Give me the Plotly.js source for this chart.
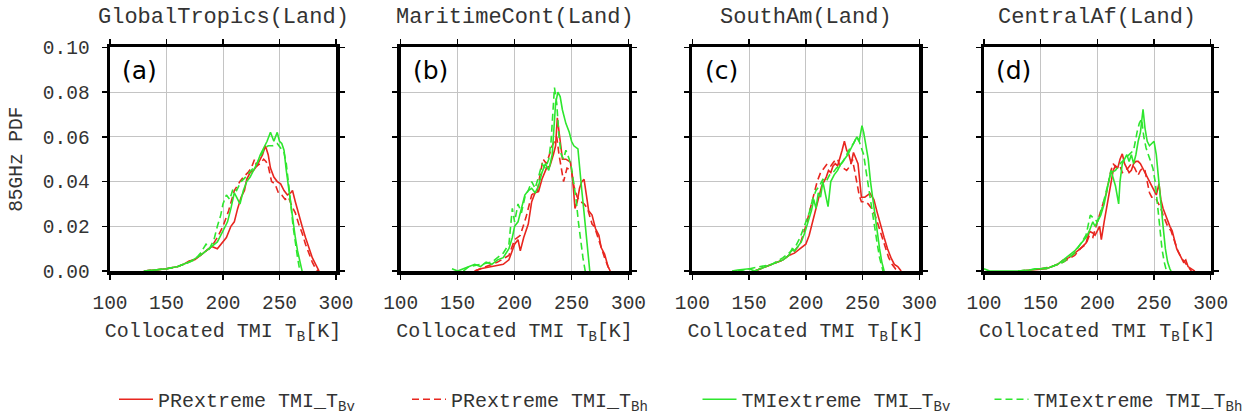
<!DOCTYPE html>
<html>
<head>
<meta charset="utf-8">
<script src="https://cdn.plot.ly/plotly-3.0.1.min.js"></script>
<style>html,body{margin:0;padding:0;background:#fff;}#chart{width:1257px;height:419px;}</style>
</head>
<body>
<div id="chart"></div>
<script>
// ---------- data (T in K, PDF) ----------
var panelTitles = ["GlobalTropics(Land)", "MaritimeCont(Land)", "SouthAm(Land)", "CentralAf(Land)"];
var panelLabels = ["(a)", "(b)", "(c)", "(d)"];
var seriesNames = ["PRextreme TMI_T<sub>Bv</sub>", "PRextreme TMI_T<sub>Bh</sub>", "TMIextreme TMI_T<sub>Bv</sub>", "TMIextreme TMI_T<sub>Bh</sub>"];
var xTickVals = [100, 150, 200, 250, 300];
var yTickVals = [0, 0.02, 0.04, 0.06, 0.08, 0.10];

// (a) GlobalTropics
var aPRvT = [130,140,150,160,165,170,175,180,185,190,195,200,203,207,210,213,216,219,221,224,227,230,233,235,237.5,240,242,245,248,251,254,257,260,261.5,264,267,270,273,276,279,282,285];
var aPRvP = [0,0.0005,0.001,0.002,0.003,0.0045,0.005,0.007,0.009,0.011,0.010,0.013,0.015,0.020,0.022,0.028,0.033,0.036,0.041,0.044,0.045,0.047,0.050,0.052,0.056,0.052,0.046,0.042,0.040,0.039,0.036,0.034,0.035,0.036,0.031,0.025,0.020,0.015,0.010,0.006,0.003,0];
var aPRhT = [130,150,160,170,180,185,190,195,200,205,210,215,218,222,225,228,230,233,236,238,240,243,246,249,252,255,258,261,264,267,270,273,276,279,282,284];
var aPRhP = [0,0.001,0.002,0.004,0.007,0.009,0.011,0.015,0.020,0.027,0.036,0.040,0.042,0.044,0.046,0.050,0.047,0.048,0.050,0.049,0.047,0.040,0.039,0.035,0.034,0.032,0.033,0.029,0.026,0.021,0.017,0.012,0.008,0.004,0.001,0];
var aTMvT = [130,140,150,160,170,180,185,190,195,200,204,207,210,212,215,218,221,224,227,230,233,236,239,242,245,248,250,252,254,256,258,260,262,264,266,268,270];
var aTMvP = [0,0.0005,0.001,0.002,0.004,0.007,0.009,0.011,0.013,0.018,0.022,0.028,0.035,0.033,0.030,0.036,0.040,0.042,0.045,0.048,0.052,0.055,0.058,0.062,0.058,0.062,0.058,0.057,0.054,0.045,0.037,0.030,0.022,0.015,0.009,0.004,0];
var aTMhT = [130,150,160,170,175,180,185,188,192,195,198,200,203,206,209,212,216,220,225,230,234,237,240,244,248,251,254,256,258,260,262,264,266,268];
var aTMhP = [0,0.001,0.002,0.004,0.005,0.008,0.012,0.010,0.014,0.020,0.025,0.030,0.034,0.032,0.037,0.036,0.040,0.042,0.045,0.048,0.052,0.055,0.056,0.056,0.057,0.055,0.053,0.048,0.040,0.030,0.020,0.012,0.006,0];

// (b) MaritimeCont
var bPRvT = [165,170,180,190,195,200,203,205,208,212,215,218,221,224,228,231,234,236,237.5,240,242,245,249,251,253,255,257,259,261,263,265,268,271,274,276,279,282,284];
var bPRvP = [0,0.001,0.002,0.003,0.005,0.012,0.014,0.009,0.015,0.021,0.031,0.035,0.0355,0.041,0.046,0.047,0.052,0.056,0.0685,0.059,0.050,0.050,0.0487,0.041,0.028,0.031,0.037,0.040,0.041,0.034,0.027,0.025,0.019,0.016,0.0105,0.0076,0.002,0];
var bPRhT = [165,175,185,195,200,205,210,215,220,222,225,228,233,235,237,239,241,243,246,250,252,255,258,261,264,268,270,273,276,279,282,284];
var bPRhP = [0,0.002,0.004,0.007,0.014,0.016,0.024,0.034,0.036,0.042,0.050,0.048,0.056,0.058,0.060,0.052,0.045,0.040,0.046,0.045,0.038,0.033,0.031,0.030,0.028,0.021,0.020,0.015,0.010,0.006,0.002,0];
var bTMvT = [145,150,155,160,165,170,175,180,185,190,195,198,200,203,206,209,212,215,218,221,224,227,230,233,236,238,240,242,245,248,250,252,255.6,257,259,261,263,265,266];
var bTMvP = [0.001,0,0.001,0.002,0.003,0.002,0.004,0.003,0.005,0.006,0.010,0.015,0.020,0.022,0.028,0.034,0.036,0.037,0.035,0.038,0.044,0.048,0.045,0.052,0.075,0.080,0.078,0.072,0.066,0.062,0.058,0.056,0.0546,0.046,0.036,0.026,0.016,0.006,0];
var bTMhT = [155,160,170,180,190,195,198,200,203,206,209,212,215,218,221,224,227,230,232,234,235,237,239,241,243,245,248,250,252,254,256,258,260,262];
var bTMhP = [0,0.002,0.003,0.004,0.008,0.012,0.028,0.022,0.030,0.026,0.033,0.036,0.040,0.037,0.042,0.048,0.046,0.050,0.058,0.075,0.082,0.075,0.060,0.052,0.050,0.054,0.050,0.046,0.040,0.032,0.022,0.013,0.006,0];

// (c) SouthAm
var cPRvT = [155,160,170,175,180,185,190,195,200,203,206,209,212,214,216,218,220,222,224,226,228,230,232,234,236,238,240,242,244,246,249,252,256.6,260,263,266,269,272,275,278,281,284];
var cPRvP = [0,0.001,0.003,0.004,0.005,0.007,0.008,0.010,0.012,0.016,0.022,0.028,0.033,0.038,0.040,0.042,0.045,0.044,0.047,0.048,0.047,0.050,0.054,0.058,0.054,0.052,0.048,0.053,0.050,0.048,0.033,0.033,0.0347,0.032,0.026,0.020,0.015,0.010,0.006,0.003,0.002,0];
var cPRhT = [155,160,170,180,190,195,200,204,208,210,213,216,219,222,225,228,230,233,236,239,241,243,245,247,249,252,255,258,261,264,267,270,273,276,279,282];
var cPRhP = [0,0.001,0.003,0.005,0.009,0.012,0.020,0.028,0.036,0.040,0.044,0.046,0.048,0.047,0.049,0.050,0.047,0.046,0.045,0.047,0.050,0.045,0.040,0.034,0.031,0.031,0.030,0.028,0.025,0.020,0.015,0.010,0.006,0.003,0.001,0];
var cTMvT = [135,140,150,155,160,165,170,175,180,185,188,190,193,196,199,202,205,207,209,211,213,215,219.6,222,225,228,231,234,237,240,243,245,247,249.5,251,253,255,257,259,261,263,265,267,269];
var cTMvP = [0,0.0005,0.001,0,0.001,0.002,0.003,0.004,0.005,0.007,0.010,0.009,0.011,0.013,0.017,0.022,0.027,0.032,0.028,0.035,0.033,0.040,0.0288,0.040,0.043,0.045,0.048,0.050,0.052,0.055,0.058,0.060,0.058,0.065,0.062,0.055,0.050,0.040,0.032,0.025,0.018,0.010,0.004,0];
var cTMhT = [140,150,160,170,180,185,190,195,200,203,206,209,212,215,218,221,224,227,230,233,236,239,242,245,247,249,251,253,255,257,259,261,263,265,267,268];
var cTMhP = [0,0.001,0.002,0.003,0.006,0.008,0.010,0.015,0.022,0.026,0.032,0.036,0.038,0.041,0.040,0.043,0.044,0.046,0.047,0.049,0.052,0.055,0.057,0.060,0.058,0.055,0.052,0.045,0.038,0.032,0.025,0.018,0.012,0.006,0.002,0];

// (d) CentralAf
var dPRvT = [130,140,150,155,160,165,170,175,180,185,190,193,196,198,202,203.5,206,208,210,212,214,216,218,220,222,224,226,228,230,232,234,236,238,240,242,244,246,248,250,252,254.4,256,258,260,262,264,266,268,270,272,274,276,278,280,283,286];
var dPRvP = [0,0.0005,0.001,0.001,0.002,0.003,0.005,0.006,0.008,0.010,0.0125,0.0177,0.017,0.016,0.020,0.014,0.022,0.028,0.034,0.040,0.045,0.047,0.046,0.050,0.0524,0.048,0.046,0.044,0.045,0.048,0.049,0.049,0.048,0.046,0.044,0.042,0.040,0.038,0.036,0.034,0.039,0.032,0.028,0.025,0.023,0.020,0.018,0.014,0.010,0.008,0.006,0.004,0.005,0.002,0.001,0];
var dPRhT = [150,160,170,180,185,190,193,196,200,204,208,210,212,214,217,220,222,224,227,230,233,235.9,238,240,242,244,246,248,250,252,254,256,258,260,262,265,268,271,274,277,280,283];
var dPRhP = [0.001,0.002,0.004,0.007,0.010,0.012,0.016,0.015,0.022,0.028,0.035,0.040,0.045,0.048,0.046,0.047,0.044,0.045,0.046,0.048,0.046,0.0428,0.045,0.046,0.045,0.040,0.035,0.033,0.033,0.032,0.030,0.028,0.025,0.022,0.020,0.018,0.013,0.009,0.006,0.004,0.002,0];
var dTMvT = [100,105,120,130,140,145,150,155,160,165,170,175,180,185,190,193,196,198,200,203,206,208,210,212,214,216,218.8,220,222,224,226,228,230,232,234,236,238,240.3,242,244,246,248,250,252,254,256,258,260,262,264,265];
var dTMvP = [0.001,0,0,0,0.0005,0.001,0.001,0.001,0.002,0.003,0.005,0.007,0.009,0.012,0.015,0.018,0.022,0.020,0.022,0.025,0.030,0.036,0.040,0.045,0.042,0.038,0.030,0.040,0.048,0.050,0.052,0.049,0.052,0.048,0.052,0.058,0.062,0.0723,0.064,0.058,0.056,0.057,0.058,0.052,0.040,0.030,0.020,0.010,0.004,0.001,0];
var dTMhT = [130,150,160,170,180,185,190,193.8,196,200,204,208,212,216,220,224,228,232,235,237,239,241,243,245,247,249,251,253,255,257,259,261];
var dTMhP = [0,0.001,0.002,0.004,0.008,0.012,0.016,0.025,0.024,0.022,0.028,0.036,0.044,0.045,0.048,0.050,0.052,0.054,0.062,0.066,0.068,0.060,0.055,0.052,0.050,0.046,0.040,0.030,0.020,0.010,0.004,0];

var panelSeries = [
  [[aPRvT, aPRvP], [aPRhT, aPRhP], [aTMvT, aTMvP], [aTMhT, aTMhP]],
  [[bPRvT, bPRvP], [bPRhT, bPRhP], [bTMvT, bTMvP], [bTMhT, bTMhP]],
  [[cPRvT, cPRvP], [cPRhT, cPRhP], [cTMvT, cTMvP], [cTMhT, cTMhP]],
  [[dPRvT, dPRvP], [dPRhT, dPRhP], [dTMvT, dTMvP], [dTMhT, dTMhP]]
];

// ---------- styling ----------
var W = 1257, H = 419;
var RED = '#e8261f', GREEN = '#2ee62e';
var seriesColors = [RED, RED, GREEN, GREEN];
var seriesDash = ['solid', '7px,4px', 'solid', '7px,4px'];
var legendIds = ['legend', 'legend2', 'legend3', 'legend4'];
var legendTextPx = [158, 451, 741.5, 1033.5];
var panelPx = [[110, 336], [400.7, 628.5], [692.3, 919.3], [984, 1210.7]];
var topPx = 48, botPx = 275;
var mono = 'Liberation Mono, Courier New, monospace';
var txtCol = '#333';
var legItemW = 34;

var traces = [];
var layout = {
  width: W, height: H,
  margin: {l: 0, r: 0, t: 0, b: 0},
  paper_bgcolor: '#fff', plot_bgcolor: '#fff',
  showlegend: true,
  annotations: []
};

for (var p = 0; p < 4; p++) {
  var sfx = p === 0 ? '' : String(p + 1);
  for (var s = 0; s < 4; s++) {
    traces.push({
      type: 'scatter', mode: 'lines',
      x: panelSeries[p][s][0], y: panelSeries[p][s][1],
      xaxis: 'x' + sfx, yaxis: 'y' + sfx,
      name: seriesNames[s],
      legend: legendIds[s],
      showlegend: p === 0,
      line: {color: seriesColors[s], width: 1.6, dash: seriesDash[s]},
      hoverinfo: 'skip'
    });
  }
  var common = {
    showline: true, linecolor: '#000', linewidth: 3.5, mirror: 'ticks',
    ticks: 'outside', ticklen: 5, tickwidth: 1.5, tickcolor: '#000',
    showgrid: true, gridcolor: '#c4c4c4', gridwidth: 1,
    zeroline: false, fixedrange: true,
    tickfont: {family: mono, size: 19.5, color: txtCol}
  };
  var xa = Object.assign({}, common, {
    domain: [panelPx[p][0] / W, panelPx[p][1] / W],
    anchor: 'y' + sfx,
    range: [100, 300], tickmode: 'array', tickvals: xTickVals,
    ticklabelstandoff: 6,
    title: {text: 'Collocated TMI T<sub>B</sub>[K]', font: {family: mono, size: 20, color: txtCol}, standoff: 10}
  });
  var ya = Object.assign({}, common, {
    domain: [1 - botPx / H, 1 - topPx / H],
    anchor: 'x' + sfx,
    range: [0, 0.1], tickmode: 'array', tickvals: yTickVals, tickformat: '.2f',
    showticklabels: p === 0,
    ticklabelstandoff: 8
  });
  if (p === 0) {
    ya.title = {text: '85GHz PDF', font: {family: mono, size: 19.5, color: txtCol}, standoff: 16};
  }
  layout['xaxis' + sfx] = xa;
  layout['yaxis' + sfx] = ya;

  layout.annotations.push({
    xref: 'paper', yref: 'paper',
    x: (panelPx[p][0] + panelPx[p][1]) / 2 / W, y: 1 - 18 / H,
    xanchor: 'center', yanchor: 'middle', showarrow: false,
    text: panelTitles[p], font: {family: mono, size: 22, color: txtCol}
  });
  layout.annotations.push({
    xref: 'x' + sfx + ' domain', yref: 'y' + sfx + ' domain',
    x: 0.045, y: 0.895, xanchor: 'left', yanchor: 'middle', showarrow: false,
    text: panelLabels[p], font: {family: 'DejaVu Sans, sans-serif', size: 25, color: '#000'}
  });
}

for (var k = 0; k < 4; k++) {
  layout[legendIds[k]] = {
    x: (legendTextPx[k] - legItemW - 10) / W, xanchor: 'left',
    y: 1 - 405 / H, yanchor: 'middle',
    orientation: 'h', bgcolor: 'rgba(0,0,0,0)', borderwidth: 0,
    font: {family: mono, size: 20, color: txtCol},
    itemwidth: legItemW
  };
}

Plotly.newPlot('chart', traces, layout, {staticPlot: true, displayModeBar: false});
</script>
</body>
</html>
